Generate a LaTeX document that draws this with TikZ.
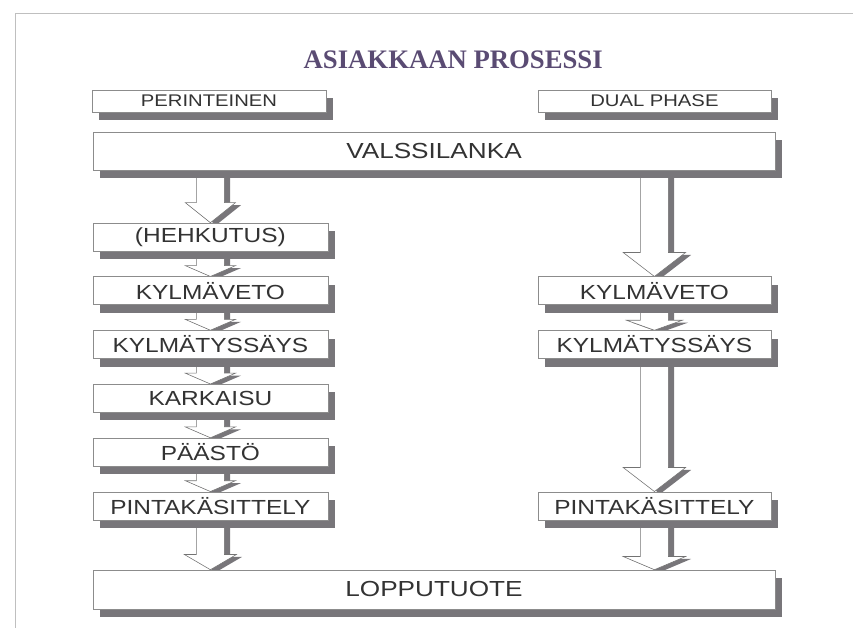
\documentclass[tikz,border=0pt]{standalone}
\usepackage{fontspec}
\setmainfont{Liberation Serif}
\newfontfamily\laatikkofont[FakeStretch=1.2]{Liberation Sans}
\usetikzlibrary{positioning,shadows,calc,backgrounds}
\definecolor{otsikkovari}{RGB}{90,75,115}
\definecolor{reunavari}{RGB}{140,140,140}
\definecolor{varjovari}{RGB}{120,118,122}
\tikzset{
    vaihe/.style={draw=reunavari, fill=white, minimum width=5.875cm, minimum height=0.7cm, inner sep=0pt,
        font=\laatikkofont\fontsize{14.5}{16}\selectfont, text=black!80,
        drop shadow={shadow xshift=0.18cm, shadow yshift=-0.2cm, fill=varjovari, opacity=1}},
    linja/.style={vaihe, minimum width=5.85cm, minimum height=0.55cm, font=\laatikkofont\fontsize{12}{14}\selectfont},
    iso/.style={vaihe, minimum width=17.05cm, minimum height=0.95cm, font=\laatikkofont\fontsize{15.5}{17}\selectfont},
    nuoli/.style={draw=black!55, fill=white, line join=miter,
        drop shadow={shadow xshift=0.14cm, shadow yshift=-0.06cm, fill=varjovari, opacity=1}},
    kehys/.style={draw=black!25, line width=0.6pt}
}
% block arrow: from, to, head depth, head half width
\newcommand{\nuoli}[4]{%
    \draw[nuoli] let \p1=(#1), \p2=(#2) in
        (\x2-0.35cm,\y1) -- (\x2-0.35cm,\y2+#3) -- (\x2-#4,\y2+#3) -- (\x2,\y2)
        -- (\x2+#4,\y2+#3) -- (\x2+0.35cm,\y2+#3) -- (\x2+0.35cm,\y1) -- cycle;}

\begin{document}
\begin{tikzpicture}[node distance=0.63cm]
    \useasboundingbox (0,0) rectangle (21.325,15.7);
    \draw[kehys] (0.375,0) |- (21.325,15.375);

    \node[text=otsikkovari, font=\bfseries\fontsize{19}{22}\selectfont] (otsikko) at (11.33,14.2) {ASIAKKAAN PROSESSI};
    \node[linja] (perint) at (5.225,13.175) {PERINTEINEN};
    \node[linja, minimum width=5.825cm] (dual) at (16.36,13.175) {DUAL PHASE};
    \node[iso] (valssi) at (10.85,11.925) {VALSSILANKA};

    % perinteinen
    \node[vaihe] (hehku) at (5.26,9.775) {(HEHKUTUS)};
    \node[vaihe, below=of hehku] (kylma1) {KYLMÄVETO};
    \node[vaihe, below=of kylma1] (jaah1) {KYLMÄTYSSÄYS};
    \node[vaihe, below=of jaah1] (karkaisu) {KARKAISU};
    \node[vaihe, below=of karkaisu] (paasto) {PÄÄSTÖ};
    \node[vaihe, below=of paasto] (pinta1) {PINTAKÄSITTELY};

    % dual phase
    \node[vaihe, minimum width=5.825cm] (kylma2) at (kylma1 -| dual) {KYLMÄVETO};
    \node[vaihe, minimum width=5.825cm] (jaah2) at (jaah1 -| dual) {KYLMÄTYSSÄYS};
    \node[vaihe, minimum width=5.825cm] (pinta2) at (pinta1 -| dual) {PINTAKÄSITTELY};

    \node[iso, minimum height=0.975cm] (loppu) at (10.85,0.9625) {LOPPUTUOTE};

    \begin{scope}[on background layer]
        \nuoli{valssi.south -| hehku}{hehku.north}{0.5cm}{0.625cm}
        \nuoli{hehku.south}{kylma1.north}{0.27cm}{0.625cm}
        \nuoli{kylma1.south}{jaah1.north}{0.27cm}{0.625cm}
        \nuoli{jaah1.south}{karkaisu.north}{0.27cm}{0.625cm}
        \nuoli{karkaisu.south}{paasto.north}{0.27cm}{0.625cm}
        \nuoli{paasto.south}{pinta1.north}{0.27cm}{0.625cm}
        \nuoli{pinta1.south}{loppu.north -| pinta1}{0.38cm}{0.65cm}

        \nuoli{valssi.south -| kylma2}{kylma2.north}{0.6cm}{0.78cm}
        \nuoli{kylma2.south}{jaah2.north}{0.25cm}{0.7cm}
        \nuoli{jaah2.south}{pinta2.north}{0.6cm}{0.78cm}
        \nuoli{pinta2.south}{loppu.north -| pinta2}{0.33cm}{0.78cm}
    \end{scope}
\end{tikzpicture}
\end{document}
